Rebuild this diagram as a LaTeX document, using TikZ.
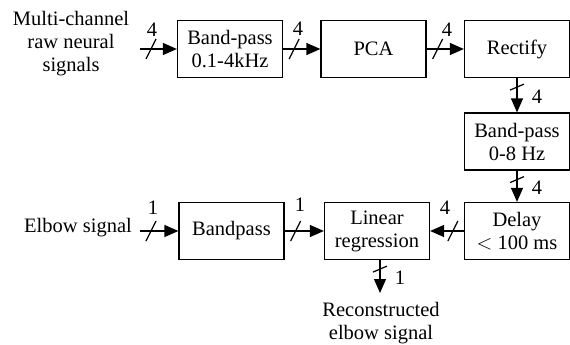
\documentclass[tikz,border=0pt]{standalone}
\usepackage{fontspec}
\setmainfont{Liberation Serif}
\usetikzlibrary{arrows.meta,decorations.markings}
\tikzset{
	blk/.style={draw,line width=1.2pt,minimum width=105pt,minimum height=57pt,align=center,inner sep=2pt},
	hbus/.style={line width=1.2pt,-{Triangle[length=14pt,width=12pt]},
		decoration={markings,mark=at position 11pt with {\draw[-,line width=1.2pt] (-5pt,-10pt) -- (5pt,10pt);}},postaction=decorate},
	vbus/.style={line width=1.2pt,-{Triangle[length=14pt,width=12pt]},
		decoration={markings,mark=at position 9pt with {\draw[-,line width=1.2pt] (3pt,-7pt) -- (-3pt,7pt);}},postaction=decorate},
}
\begin{document}
\begin{tikzpicture}[x=1pt,y=-1pt,font=\fontsize{20.5}{23}\selectfont]
		\useasboundingbox (0,0) rectangle (570,345);

		\node[align=center] (neural) at (71,44) {Multi-channel\\raw neural\\signals};
		\coordinate (in1) at (140,49);
		\node[blk] (bp1) at (230,49) {Band-pass\\0.1-4kHz};
		\node[blk] (pca) at (373.5,49) {PCA};
		\node[blk] (rect) at (517,49) {Rectify};
		\node[blk] (bp2) at (517,141.5) {Band-pass\\0-8 Hz};
		\node[blk] (delay) at (517,231) {Delay\\$<$ 100 ms};
		\node[blk] (lr) at (377,231) {Linear\\regression};
		\node[blk] (bp3) at (231.5,231) {Bandpass};
		\node (elbow) at (78,228) {Elbow signal};
		\coordinate (in2) at (140,231);
		\coordinate (out) at (380,293);
		\node[align=center] (recon) at (381,323) {Reconstructed\\elbow signal};

		\draw[hbus] (in1) -- (bp1);
		\draw[hbus] (bp1) -- (pca);
		\draw[hbus] (pca) -- (rect);
		\draw[vbus] (rect) -- (bp2);
		\draw[vbus] (bp2) -- (delay);
		\draw[hbus] (delay) -- (lr);
		\draw[hbus] (bp3) -- (lr);
		\draw[hbus] (in2) -- (bp3);
		\draw[vbus] (lr.south -| out) -- (out);

		% channel counts
		\node (n1) at (152,30) {4};
		\node (n2) at (298,29) {4};
		\node (n3) at (447,30) {4};
		\node (n4) at (537,97) {4};
		\node (n5) at (537,188) {4};
		\node (n6) at (445,208) {4};
		\node (n7) at (300,205) {1};
		\node (n8) at (153,208) {1};
		\node (n9) at (400,278) {1};
	\end{tikzpicture}
\end{document}
